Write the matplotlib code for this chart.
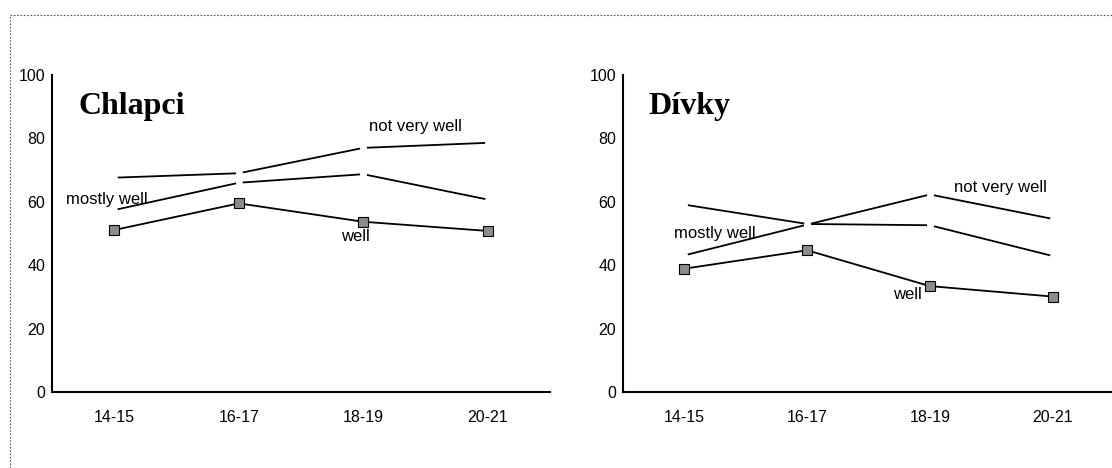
import matplotlib
matplotlib.use("Agg")
import matplotlib.pyplot as plt
from matplotlib.lines import Line2D

# Age groups on the x axis
age_groups = ["14-15", "16-17", "18-19", "20-21"]

# Chlapci (boys), percent
boys_not_very_well = [67.6, 69.0, 77.0, 78.6]
boys_mostly_well = [57.4, 66.0, 68.7, 60.7]
boys_well = [51.1, 59.5, 53.7, 50.8]

# Dívky (girls), percent
girls_not_very_well = [43.1, 52.8, 62.3, 54.6]
girls_mostly_well = [59.1, 53.0, 52.6, 42.9]
girls_well = [38.9, 44.7, 33.4, 30.1]

y_ticks = [0, 20, 40, 60, 80, 100]

plt.rcParams['font.family'] = ['Liberation Sans', 'DejaVu Sans']

fig = plt.figure(figsize=(11.12, 4.68), dpi=100)

# Dotted scan frame round the figure
fig.add_artist(Line2D([0.009, 0.009], [0.0, 0.968], transform=fig.transFigure,
                      color='0.35', lw=0.8, ls=(0, (1.5, 1.5))))
fig.add_artist(Line2D([0.009, 1.0], [0.968, 0.968], transform=fig.transFigure,
                      color='0.35', lw=0.8, ls=(0, (1.5, 1.5))))


def draw_panel(ax, title, not_very_well, mostly_well, well, labels):
    x = range(len(age_groups))
    # upper two lines: small white dots leave gaps at the joints
    for values in (not_very_well, mostly_well):
        ax.plot(x, values, color='black', lw=1.3, marker='o', ms=4,
                mfc='white', mec='white', zorder=2)
    ax.plot(x, well, color='black', lw=1.3, marker='s', ms=6.5,
            mfc='0.55', mec='black', mew=0.8, zorder=3)

    ax.set_xlim(-0.5, 3.5)
    ax.set_ylim(0, 100)
    ax.set_xticks(list(x))
    ax.set_xticklabels(age_groups)
    ax.set_yticks(y_ticks)
    ax.tick_params(axis='both', length=0, labelsize=11.5)
    ax.tick_params(axis='x', pad=13)
    ax.tick_params(axis='y', pad=5)
    for side in ('top', 'right'):
        ax.spines[side].set_visible(False)
    for side in ('left', 'bottom'):
        ax.spines[side].set_linewidth(1.5)

    ax.text(-0.29, 87.6, title, family='Liberation Serif', fontweight='bold',
            fontsize=23, ha='left', va='baseline')
    for text, tx, ty in labels:
        ax.text(tx, ty, text, fontsize=12, ha='left', va='baseline')


# Left panel: Chlapci
ax1 = fig.add_axes([0.0468, 0.1624, 0.4478, 0.6774])
draw_panel(ax1, "Chlapci", boys_not_very_well, boys_mostly_well, boys_well,
           [("not very well", 2.05, 82.4), ("mostly well", -0.385, 59.3),
            ("well", 1.82, 47.5)])

# Right panel: Dívky (axis runs off the right edge like the scan)
ax2 = fig.add_axes([0.5603, 0.1624, 0.4415, 0.6774])
draw_panel(ax2, "Dívky", girls_not_very_well, girls_mostly_well, girls_well,
           [("not very well", 2.2, 63.0), ("mostly well", -0.085, 48.5),
            ("well", 1.7, 29.2)])

fig.savefig("out.png", dpi=100)
